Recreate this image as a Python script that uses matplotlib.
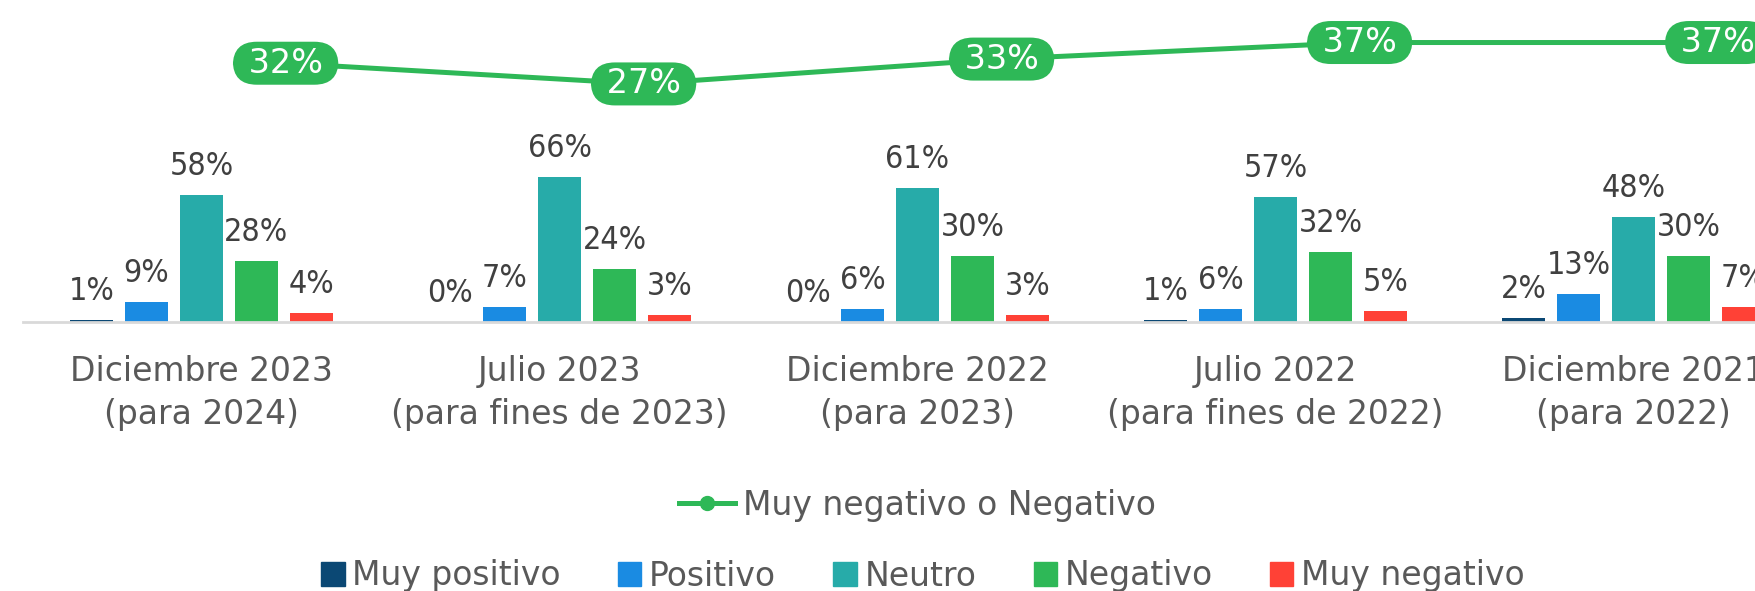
import numpy as np
import matplotlib
matplotlib.use('Agg')
import matplotlib.pyplot as plt
from matplotlib.lines import Line2D
from matplotlib.patches import Patch

# DATOS

categorias = ["Diciembre 2023\n(para 2024)",
              "Julio 2023\n(para fines de 2023)",
              "Diciembre 2022\n(para 2023)",
              "Julio 2022\n(para fines de 2022)",
              "Diciembre 2021\n(para 2022)"]

muy_positivo = [1, 0, 0, 1, 2]
positivo = [9, 7, 6, 6, 13]
neutro = [58, 66, 61, 57, 48]
negativo = [28, 24, 30, 32, 30]
muy_negativo = [4, 3, 3, 5, 7]
neg_o_muy_neg = [32, 27, 33, 37, 37]

series = ["Muy positivo", "Positivo", "Neutro", "Negativo", "Muy negativo"]
colores = ['#0B4874', '#1A8BE2', '#27ABA9', '#2EB857', '#FF4136']
VERDE = '#2EB857'
GRIS = '#595959'
GRIS_ETIQ = '#404040'

# FIGURA

fig = plt.figure(figsize=(17.55, 5.91), dpi=100)
ax = fig.add_axes([22.5 / 1755, 269 / 591, 1790 / 1755, 322 / 591])

x = np.arange(len(categorias))
paso = 0.1536
ancho = 0.12
valores = [muy_positivo, positivo, neutro, negativo, muy_negativo]

for k, (nombre, vals, col) in enumerate(zip(series, valores, colores)):
    pos = x + (k - 2) * paso
    ax.bar(pos, vals, width=ancho, color=col, label=nombre, zorder=2)
    for xi, v in zip(pos, vals):
        ax.annotate(f"{v}%", (xi, v), xytext=(0, 14.4), textcoords='offset points',
                    ha='center', va='baseline', fontsize=23, color=GRIS_ETIQ,
                    fontstretch='condensed')

ax.set_xlim(-0.5, len(categorias) - 0.5)
ax.set_ylim(0, 147.0)
ax.set_yticks([])
ax.set_xticks(x)
ax.set_xticklabels(categorias, fontsize=23.8, color=GRIS, linespacing=1.37)
ax.tick_params(axis='x', length=0, pad=24)
for s in ['top', 'left', 'right']:
    ax.spines[s].set_visible(False)
ax.spines['bottom'].set_color('#D9D9D9')
ax.spines['bottom'].set_linewidth(2)

# linea de muy negativo o negativo (eje secundario)
ax2 = ax.twinx()
ax2.set_ylim(-30.5, 47.27)
ax2.set_yticks([])
for s in ax2.spines.values():
    s.set_visible(False)
xl = x + 0.235
ax2.plot(xl, neg_o_muy_neg, color=VERDE, lw=3.6, zorder=3, clip_on=False)
for xi, v in zip(xl, neg_o_muy_neg):
    ax2.text(xi, v, f" {v}% ", ha='center', va='center', fontsize=24, color='white',
             zorder=4, clip_on=False,
             bbox=dict(boxstyle='round,pad=0.15,rounding_size=0.72', fc=VERDE, ec='none'))

# LEYENDAS
h_linea = [Line2D([0], [0], color=VERDE, lw=3.6, marker='o', markersize=10)]
fig.legend(h_linea, ["Muy negativo o Negativo"], loc='center',
           bbox_to_anchor=(917.5 / 1755, 86 / 591), frameon=False,
           fontsize=23.8, labelcolor=GRIS, handlelength=1.67,
           handletextpad=0.24)

h_barras = [Patch(color=c) for c in colores]
fig.legend(h_barras, series, loc='center', ncol=5,
           bbox_to_anchor=(923 / 1755, 15 / 591), frameon=False,
           fontsize=23.8, labelcolor=GRIS, handlelength=0.7,
           handleheight=0.7, handletextpad=0.24, columnspacing=1.73)

fig.savefig('out.png', dpi=100)
